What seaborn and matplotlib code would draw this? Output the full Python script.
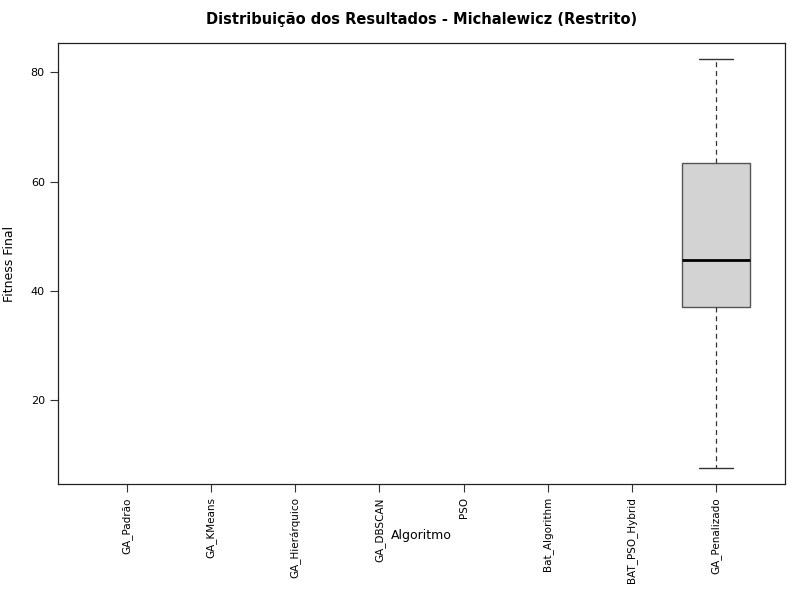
import matplotlib
matplotlib.use("Agg")
import matplotlib.pyplot as plt
import seaborn as sns
import pandas as pd
import numpy as np

algoritmos = ["GA_Padrão", "GA_KMeans", "GA_Hierárquico", "GA_DBSCAN", "PSO",
              "Bat_Algorithm", "BAT_PSO_Hybrid", "GA_Penalizado"]
# Only GA_Penalizado has finite results in the reference
penalizado_vals = [7.7, 37.1, 45.6, 63.4, 82.4]
yticks = [20, 40, 60, 80]

df = pd.DataFrame({"Algoritmo": ["GA_Penalizado"] * len(penalizado_vals),
                   "Fitness": penalizado_vals})

sns.set_style("white")
plt.rcParams['font.family'] = ['DejaVu Sans']
plt.rcParams['text.color'] = 'black'
plt.rcParams['axes.labelcolor'] = 'black'
plt.rcParams['xtick.color'] = 'black'
plt.rcParams['ytick.color'] = 'black'

fig = plt.figure(figsize=(8, 6), dpi=100)
ax = fig.add_axes([0.0725, 0.1933, 0.90875, 0.735])

sns.boxplot(data=df, x="Algoritmo", y="Fitness", order=algoritmos, ax=ax,
            color="#D3D3D3", width=0.8, whis=1.5,
            boxprops=dict(facecolor="#D3D3D3", edgecolor="#555555", linewidth=1),
            whiskerprops=dict(color="#333333", linestyle=(0, (4, 3)), linewidth=0.9),
            capprops=dict(color="#333333", linewidth=1),
            medianprops=dict(color="black", linewidth=2),
            fliersize=3, saturation=1)

ax.set_xlim(0.5 - 1 - 0.32, 7.5 + 0.32)
ax.set_ylim(4.68, 85.36)
ax.set_yticks(yticks)
ax.set_yticklabels([str(t) for t in yticks], fontsize=8)
ax.set_xticks(range(len(algoritmos)))
ax.set_xticklabels(algoritmos, rotation=90, fontsize=7.5)
ax.tick_params(axis='both', direction='out', length=6, width=0.8, color="#333333",
               labelcolor="black", left=True, bottom=True)

for s in ax.spines.values():
    s.set_visible(True)
    s.set_color("#222222")
    s.set_linewidth(0.9)

ax.set_ylabel("Fitness Final", fontsize=9, color="black")
ax.set_xlabel("Algoritmo", fontsize=9, color="black")
ax.xaxis.set_label_coords(0.5, -0.102)
ax.yaxis.set_label_coords(-0.058, 0.5)
ax.set_title("Distribuição dos Resultados - Michalewicz (Restrito)",
             fontsize=10.5, fontweight='bold', pad=14, color="black")

fig.savefig("out.png", dpi=100)
